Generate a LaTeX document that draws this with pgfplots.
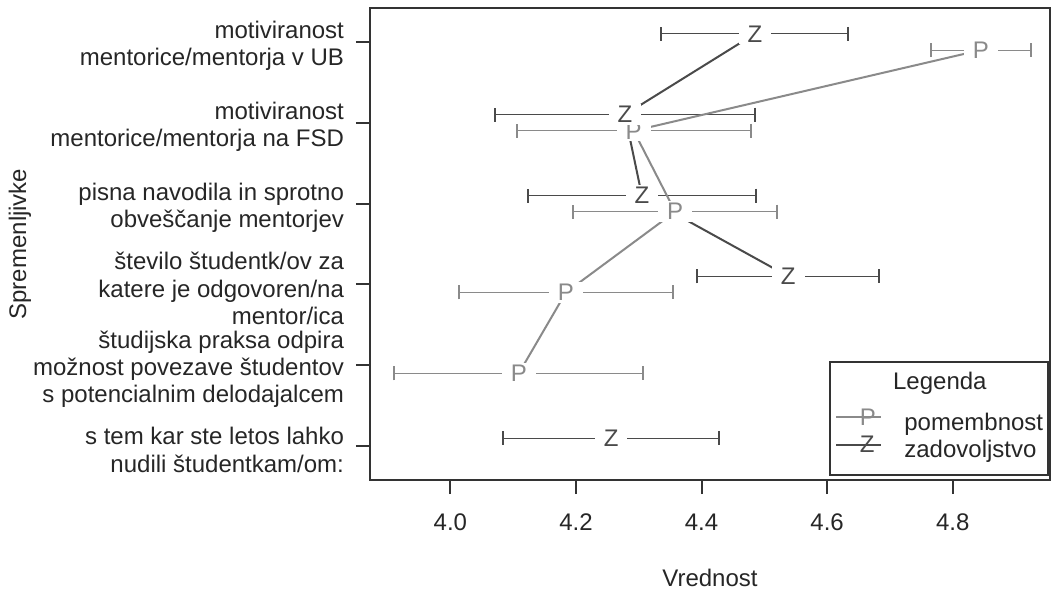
\documentclass[border=0pt]{standalone}
\usepackage{fontspec}
\setmainfont{Liberation Sans}
\usepackage{pgfplots}
\usepackage{pgfplotstable}
\pgfplotsset{compat=1.18}

\definecolor{pcol}{HTML}{8A8A8A}
\definecolor{zcol}{HTML}{4A4A4A}
\definecolor{axcol}{HTML}{333333}
\definecolor{txtcol}{HTML}{262626}

% pomembnost (P): y = category - 0.1
\pgfplotstableread{
y   x     e
5.9 4.845 0.080
4.9 4.292 0.186
3.9 4.358 0.162
2.9 4.184 0.171
1.9 4.109 0.198
}\ptab
% zadovoljstvo (Z): y = category + 0.1, no value for category 2
\pgfplotstableread{
y   x     e
6.1 4.485 0.149
5.1 4.278 0.207
4.1 4.305 0.182
3.1 4.538 0.145
2.1 nan   nan
1.1 4.256 0.172
}\ztab

\begin{document}
\begin{tikzpicture}[font=\fontsize{12}{13.7}\selectfont, text=txtcol]
\begin{axis}[
    scale only axis,
    width=340pt, height=236pt,
    xmin=3.872, xmax=4.955,
    ymin=0.58, ymax=6.42,
    xtick={4,4.2,4.4,4.6,4.8},
    xticklabels={4.0,4.2,4.4,4.6,4.8},
    xticklabel style={yshift=-6.5pt},
    ytick={1,2,3,4,5,6},
    yticklabels={
        {s tem kar ste letos lahko\\nudili študentkam/om:},
        {študijska praksa odpira\\možnost povezave študentov\\s potencialnim delodajalcem},
        {število študentk/ov za\\katere je odgovoren/na\\mentor/ica},
        {pisna navodila in sprotno\\obveščanje mentorjev},
        {motiviranost\\mentorice/mentorja na FSD},
        {motiviranost\\mentorice/mentorja v UB}},
    yticklabel style={align=right, anchor=east, xshift=-2.5pt, yshift=-2pt,
        font=\fontsize{12}{13.7}\selectfont},
    xtick pos=bottom, ytick pos=left,
    tick align=outside,
    major tick length=7pt,
    tick style={axcol, line width=1pt},
    axis line style={axcol, line width=1pt},
    xlabel={Vrednost},
    ylabel={Spremenljivke},
    every axis x label/.style={at={(axis description cs:0.5,-0.2076)}, anchor=center},
    every axis y label/.style={at={(axis description cs:-0.5147,0.5)}, rotate=90, anchor=center},
    unbounded coords=jump,
    legend style={
        name=leg,
        at={(axis description cs:0.6838,0.1513)}, anchor=north west,
        draw=none, fill=none,
        inner sep=0pt, row sep=0pt,
        font=\fontsize{12}{11}\selectfont,
        nodes={inner sep=0pt, text height=7.5pt, text depth=3pt},
        /tikz/every odd column/.append style={column sep=11pt},
    },
    legend cell align=left,
]
% error bars
\addplot[pcol, line width=1pt, only marks, mark=none, forget plot,
    error bars/.cd, x dir=both, x explicit,
    error mark options={rotate=90, mark size=3.5pt, line width=1pt, pcol}]
    table[x=x, y=y, x error=e]{\ptab};
\addplot[zcol, line width=1pt, only marks, mark=none, forget plot,
    error bars/.cd, x dir=both, x explicit,
    error mark options={rotate=90, mark size=3.5pt, line width=1pt, zcol}]
    table[x=x, y=y, x error=e]{\ztab};
% connecting lines
\addplot[pcol, line width=1pt, mark=none, forget plot] table[x=x, y=y]{\ptab};
\addplot[zcol, line width=1pt, mark=none, forget plot] table[x=x, y=y]{\ztab};
% letters
\addplot[only marks, mark=text, text mark={P}, text mark as node=true,
    text mark style={fill=white, text=pcol, inner xsep=4.5pt, inner ysep=1pt,
        font=\fontsize{12}{14}\selectfont, text height=, text depth=},
    legend image code/.code={
        \draw[pcol, line width=1pt] (0pt,4.3pt) -- (22.5pt,4.3pt);
        \node[text=pcol, inner sep=0pt, text height=, text depth=] at (11.5pt,4.3pt) {P};}]
    table[x=x, y=y]{\ptab};
\addplot[only marks, mark=text, text mark={Z}, text mark as node=true,
    text mark style={fill=white, text=zcol, inner xsep=4.5pt, inner ysep=1pt,
        font=\fontsize{12}{14}\selectfont, text height=, text depth=},
    legend image code/.code={
        \draw[zcol, line width=1pt] (0pt,4.3pt) -- (22.5pt,4.3pt);
        \node[text=zcol, inner sep=0pt, text height=, text depth=] at (11.5pt,4.3pt) {Z};}]
    table[x=x, y=y]{\ztab};
\legend{pomembnost, zadovoljstvo}
% legend frame and title
\draw[axcol, line width=1pt] (rel axis cs:0.6765,0.0106) rectangle (rel axis cs:0.997,0.25);
\node[anchor=center, text height=, text depth=] at (rel axis cs:0.838,0.2055) {Legenda};
\end{axis}
\pgfresetboundingbox
\path (-185pt,-56.5pt) rectangle (341pt,240pt);
\end{tikzpicture}
\end{document}
